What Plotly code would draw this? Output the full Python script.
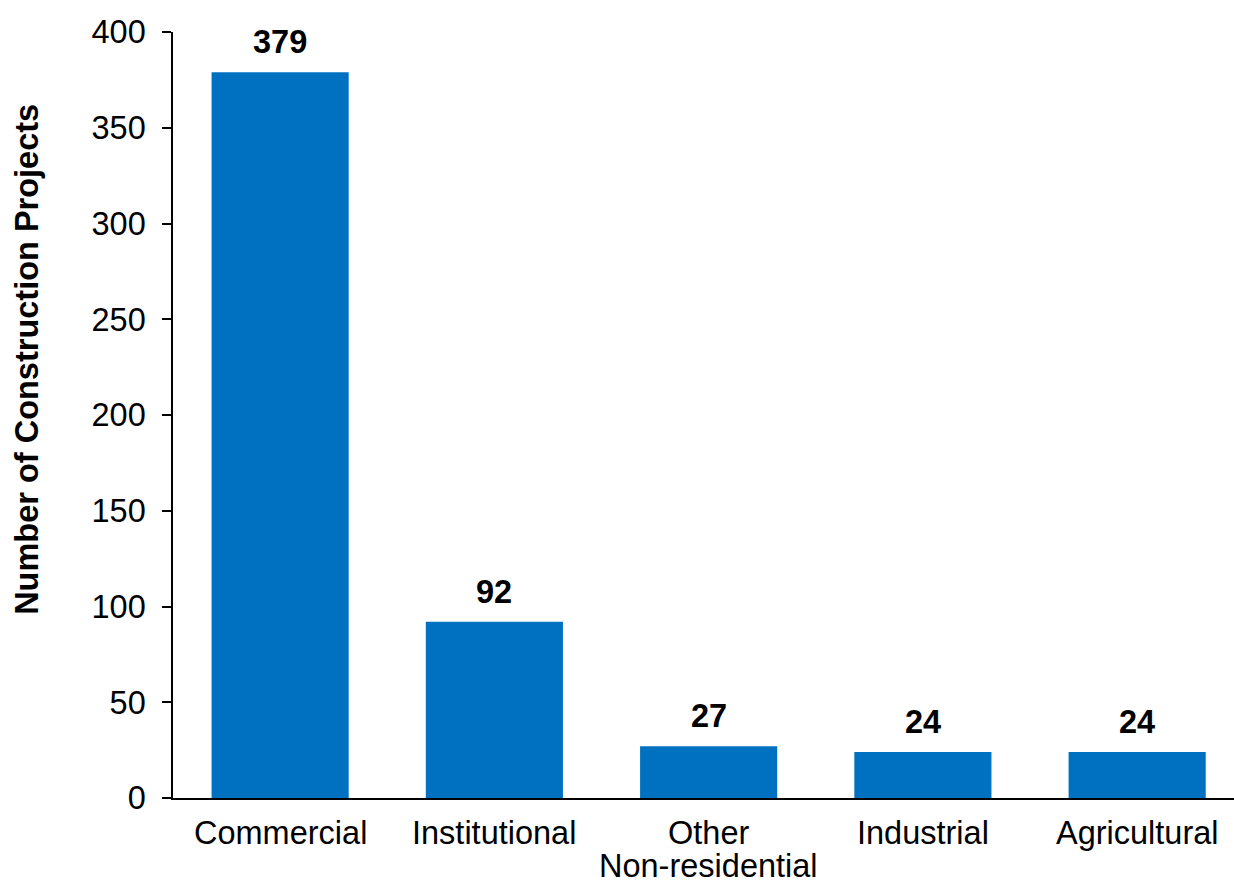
import plotly.graph_objects as go

categories = ["Commercial", "Institutional", "Other\nNon-residential", "Industrial", "Agricultural"]
projects = [379, 92, 27, 24, 24]
y_ticks = [0, 50, 100, 150, 200, 250, 300, 350, 400]
y_title = "Number of Construction Projects"

FONT = "Liberation Sans, Arial, sans-serif"
BLUE = "#0070C0"
SIZE = 32.5
LINE_GAP = 33  # px between stacked category-label lines

fig = go.Figure()
fig.add_trace(go.Bar(
    x=list(range(len(categories))),
    y=projects,
    marker=dict(color=BLUE, line=dict(width=0)),
    width=0.64,
    hoverinfo="skip",
))

# value labels above each bar
for i, v in enumerate(projects):
    fig.add_annotation(
        x=i, y=v, xref="x", yref="y",
        text=f"<b>{v}</b>", showarrow=False,
        yanchor="bottom", yshift=10,
        font=dict(family=FONT, size=SIZE, color="black"),
    )

# category labels under the axis, one annotation per line for tighter leading
for i, name in enumerate(categories):
    for k, line in enumerate(name.split("\n")):
        fig.add_annotation(
            x=i, y=0, xref="x", yref="paper",
            text=line, showarrow=False,
            yanchor="middle", yshift=-35 - k * LINE_GAP,
            font=dict(family=FONT, size=SIZE, color="black"),
        )

# vertical axis title, placed a little above the plot's mid-height
fig.add_annotation(
    x=0, y=0.572, xref="paper", yref="paper",
    text=f"<b>{y_title}</b>", showarrow=False, textangle=-90,
    xanchor="center", yanchor="middle", xshift=-146,
    font=dict(family=FONT, size=SIZE, color="black"),
)

fig.update_layout(
    width=1234, height=886,
    margin=dict(l=173, r=0, t=32, b=88),
    paper_bgcolor="white", plot_bgcolor="white",
    showlegend=False,
    font=dict(family=FONT, size=SIZE, color="black"),
)
fig.update_xaxes(
    range=[-0.5, 4.452],
    tickmode="array",
    tickvals=list(range(len(categories))),
    showticklabels=False,
    showline=True, linecolor="black", linewidth=1.5,
    showgrid=False, zeroline=False, ticks="",
    automargin=False,
    fixedrange=True,
)
fig.update_yaxes(
    range=[0, 400],
    tickmode="array",
    tickvals=y_ticks,
    showline=True, linecolor="black", linewidth=1.5,
    ticks="outside", ticklen=9, tickwidth=1.5, tickcolor="black",
    showgrid=False, zeroline=False,
    ticklabelstandoff=10,
    automargin=False,
    tickfont=dict(family=FONT, size=SIZE, color="black"),
    fixedrange=True,
)

fig.write_html("out.html", config={"displayModeBar": False})
